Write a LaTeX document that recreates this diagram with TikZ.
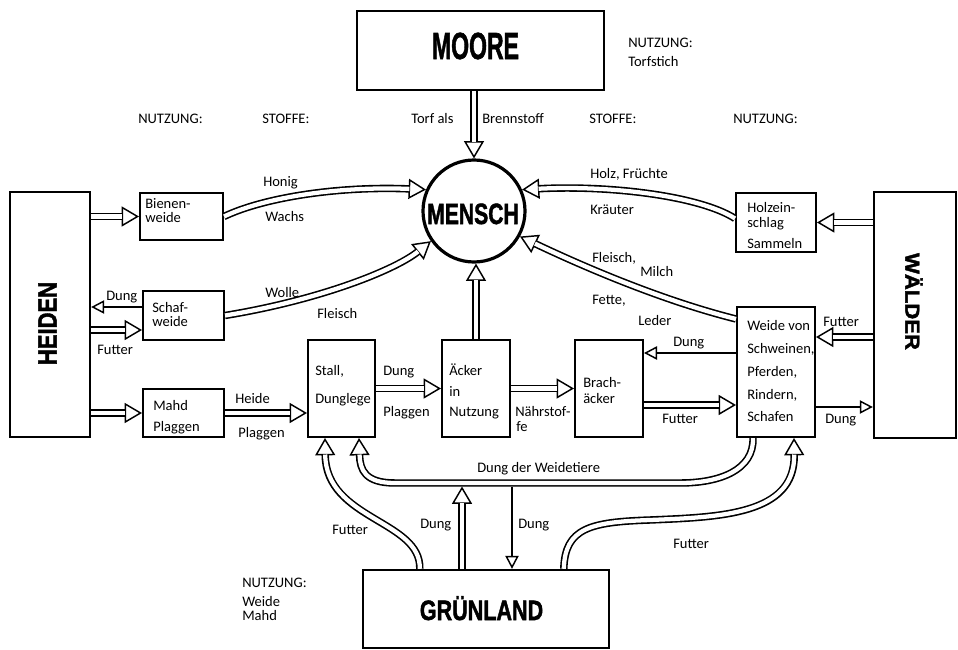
\documentclass[tikz,border=0pt]{standalone}
\usepackage{fontspec}
\setmainfont{Carlito}
\newfontfamily\titlefont[FakeBold=1.8]{Liberation Sans Bold}
\usetikzlibrary{arrows.meta,calc}
\tikzset{
  bx/.style 2 args={draw, line width=1.5pt, inner sep=0pt, minimum width=#1*0.75pt, minimum height=#2*0.75pt},
  big/.style={line width=1.8pt},
  dout/.style={line width=5.6pt, -{Triangle[fill=white, length=13pt, width=15pt, line width=1.1pt]}},
  din/.style={line width=3.2pt, white, shorten >=12.4pt},
  sgl/.style={line width=1.1pt, -{Triangle[fill=white, length=9.75pt, width=10pt, line width=1.1pt]}},
  lbl/.style={anchor=west, inner sep=0pt, text height=8pt, text depth=1.5pt, font=\fontsize{10.9}{12}\selectfont},
  ttl/.style={inner sep=0pt, font=\titlefont}
}
\newcommand\dbl[1]{\draw[dout] #1; \draw[din] #1;}
\begin{document}
\begin{tikzpicture}[x=0.75pt, y=-0.75pt]
\fill[white] (0,0) rectangle (958,650);
\useasboundingbox (0,0) rectangle (958,650);

% boxes
\node[bx={247}{79}, big] (moore) at (480.5,50.5) {};
\node[bx={80}{245}, big] (heiden) at (50,314.5) {};
\node[bx={82}{246}, big] (walder) at (915,315) {};
\node[bx={246}{78}, big] (gruen) at (486,609) {};
\node[bx={83}{47}] (biene) at (181.5,216.5) {};
\node[bx={81}{49}] (schaf) at (183.5,315.5) {};
\node[bx={81}{48}] (mahd) at (183.5,413) {};
\node[bx={67}{97}] (stall) at (341.5,388.5) {};
\node[bx={68}{97}] (aecker) at (476,388.5) {};
\node[bx={68}{97}] (brach) at (609,388.5) {};
\node[bx={78}{130}] (weide) at (776,372) {};
\node[bx={80}{59}] (holz) at (776,222.5) {};
\node[circle, draw, line width=2.4pt, minimum size=76.5pt, inner sep=0pt] (mensch) at (474,211) {};

% titles
\node[ttl, anchor=base] (mooreT) at (475.5,59) {\scalebox{0.61}[1]{\fontsize{28.3}{30}\selectfont MOORE}};
\node[ttl, anchor=base] (menschT) at (473,224) {\scalebox{0.72}[1]{\fontsize{22}{24}\selectfont MENSCH}};
\node[ttl, anchor=base] (gruenT) at (481.5,620) {\scalebox{0.77}[1]{\fontsize{21}{23}\selectfont GRÜNLAND}};
\node[ttl, rotate=90] (heidenT) at (47.5,323.5) {\scalebox{0.83}[1]{\fontsize{19.9}{21}\selectfont HEIDEN}};
\node[ttl, rotate=-90] (walderT) at (914,301.5) {\scalebox{1.09}[1]{\fontsize{15.2}{17}\selectfont WÄLDER}};

% helper coordinates
\coordinate (schafD) at ($(schaf.west)+(0,-8.5)$);
\coordinate (schafF) at ($(schaf.west)+(0,14.5)$);
\coordinate (wD) at ($(weide.west)+(0,-19)$);
\coordinate (wF) at ($(weide.west)+(0,33)$);
\coordinate (wF2) at ($(weide.east)+(0,-35)$);
\coordinate (wD2) at ($(weide.east)+(0,35)$);
\coordinate (dwL) at (395,483);
\coordinate (dwR) at (680,483);
\coordinate (dgU) at (462,486.5);
\coordinate (dgD) at (512,486.5);

% connectors to MENSCH
\dbl{(moore.south -| mensch.north) -- (mensch.north)}
\dbl{(aecker.north) -- (aecker.north |- mensch.south)}
\dbl{(biene.east) .. controls (265,197) and (340,186) .. (mensch.156)}
\dbl{(schaf.east) .. controls (320,300) and (395,270) .. (mensch.215)}
\dbl{($(holz.west)+(0,-4)$) .. controls (700,196) and (610,185) .. (mensch.24)}
\dbl{($(weide.north west)+(0,13)$) .. controls (660,300) and (580,265) .. (mensch.331)}

% left side
\dbl{(heiden.east |- biene.west) -- (biene.west)}
\draw[sgl] (schafD) -- (heiden.east |- schafD);
\dbl{(heiden.east |- schafF) -- (schafF)}
\dbl{(heiden.east |- mahd.west) -- (mahd.west)}
\dbl{(mahd.east) -- (mahd.east -| stall.west)}
\dbl{(stall.east) -- (aecker.west)}
\dbl{(aecker.east) -- (brach.west)}

% right side
\draw[sgl] (wD) -- (brach.east |- wD);
\dbl{(brach.east |- wF) -- (wF)}
\dbl{(walder.west |- wF2) -- (wF2)}
\draw[sgl] (wD2) -- (walder.west |- wD2);
\dbl{(walder.west |- holz.east) -- (holz.east)}

% bottom
\dbl{($(weide.south west)+(17,0)$) .. controls (754,470) and (720,483) .. (dwR) -- (dwL) .. controls (365,483) and (360,470) .. ($(stall.south west)+(52,0)$)}
\dbl{($(gruen.north west)+(58,0)$) .. controls (421,520) and (326,520) .. ($(stall.south west)+(18,0)$)}
\dbl{($(gruen.north west)+(202,0)$) .. controls (565,528) and (590,522) .. (650,520) .. controls (720,517) and (795,515) .. ($(weide.south west)+(58,0)$)}
\dbl{(gruen.north -| dgU) -- (dgU)}
\draw[sgl] (dgD) -- (gruen.north -| dgD);

% labels
\node[lbl] (l1) at (138,119) {NUTZUNG:};
\node[lbl] (l2) at (262,119) {STOFFE:};
\node[lbl] (l3) at (411,119) {Torf als};
\node[lbl] (l4) at (482,119) {Brennstoff};
\node[lbl] (l5) at (589,119) {STOFFE:};
\node[lbl] (l6) at (733,119) {NUTZUNG:};
\node[lbl] (l7) at (628,43) {NUTZUNG:};
\node[lbl] (l8) at (628,62) {Torfstich};
\node[lbl] (l9) at (263,182) {Honig};
\node[lbl] (l10) at (265,217) {Wachs};
\node[lbl] (l11) at (265,293) {Wolle};
\node[lbl] (l12) at (317,314) {Fleisch};
\node[lbl] (l13) at (106,296) {Dung};
\node[lbl] (l14) at (97,350) {Futter};
\node[lbl] (l15) at (235,399) {Heide};
\node[lbl] (l16) at (238,433) {Plaggen};
\node[lbl] (b1) at (145,204) {Bienen-};
\node[lbl] (b2) at (145,218) {weide};
\node[lbl] (b3) at (152,308) {Schaf-};
\node[lbl] (b4) at (152,322) {weide};
\node[lbl] (b5) at (153,406) {Mahd};
\node[lbl] (b6) at (153,427) {Plaggen};
\node[lbl] (b7) at (315,371) {Stall,};
\node[lbl] (b8) at (315,399) {Dunglege};
\node[lbl] (l17) at (383,371) {Dung};
\node[lbl] (l18) at (383,412) {Plaggen};
\node[lbl] (b9) at (449,371) {Äcker};
\node[lbl] (b10) at (449,392) {in};
\node[lbl] (b11) at (449,412) {Nutzung};
\node[lbl] (l19) at (515,412) {Nährstof-};
\node[lbl] (l20) at (516,427) {fe};
\node[lbl] (b12) at (583,383) {Brach-};
\node[lbl] (b13) at (583,399) {äcker};
\node[lbl] (l21) at (590,174) {Holz, Früchte};
\node[lbl] (l22) at (590,210) {Kräuter};
\node[lbl] (b14) at (747,208) {Holzein-};
\node[lbl] (b15) at (747,223) {schlag};
\node[lbl] (b16) at (747,244) {Sammeln};
\node[lbl] (l23) at (592,258) {Fleisch,};
\node[lbl] (l24) at (640,272) {Milch};
\node[lbl] (l25) at (592,300) {Fette,};
\node[lbl] (l26) at (638,321) {Leder};
\node[lbl] (l27) at (673,342) {Dung};
\node[lbl] (b17) at (747,326) {Weide von};
\node[lbl] (b18) at (747,349) {Schweinen,};
\node[lbl] (b19) at (747,372) {Pferden,};
\node[lbl] (b20) at (747,395) {Rindern,};
\node[lbl] (b21) at (747,417) {Schafen};
\node[lbl] (l28) at (823,322) {Futter};
\node[lbl] (l29) at (825,419) {Dung};
\node[lbl] (l30) at (662,419) {Futter};
\node[lbl] (l31) at (477,468) {Dung der Weidetiere};
\node[lbl] (l32) at (332,530) {Futter};
\node[lbl] (l33) at (420,524) {Dung};
\node[lbl] (l34) at (518,524) {Dung};
\node[lbl] (l35) at (673,544) {Futter};
\node[lbl] (l36) at (242,583) {NUTZUNG:};
\node[lbl] (l37) at (242,602) {Weide};
\node[lbl] (l38) at (242,616) {Mahd};
\end{tikzpicture}
\end{document}
